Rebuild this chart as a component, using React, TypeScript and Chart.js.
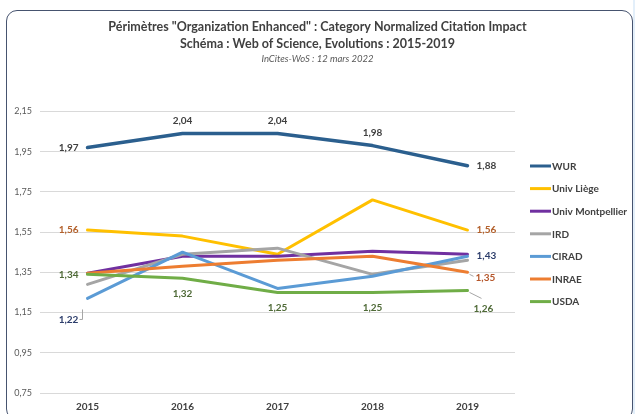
import React, { useEffect, useRef } from "react";
import { Chart, registerables } from "chart.js";

Chart.register(...registerables);

const years = ["2015", "2016", "2017", "2018", "2019"];
const seriesNames = ["WUR", "Univ Liège", "Univ Montpellier", "IRD", "CIRAD", "INRAE", "USDA"];
const wur = [1.97, 2.04, 2.04, 1.98, 1.88];
const univLiege = [1.56, 1.53, 1.44, 1.71, 1.56];
const univMontpellier = [1.345, 1.43, 1.43, 1.455, 1.44];
const ird = [1.29, 1.44, 1.47, 1.34, 1.41];
const cirad = [1.22, 1.45, 1.27, 1.33, 1.43];
const inrae = [1.345, 1.38, 1.41, 1.43, 1.35];
const usda = [1.34, 1.32, 1.25, 1.25, 1.26];
const yTicks = [0.75, 0.95, 1.15, 1.35, 1.55, 1.75, 1.95, 2.15];

const titleLines = [
  'Périmètres "Organization Enhanced" : Category Normalized Citation Impact',
  "Schéma : Web of Science, Evolutions : 2015-2019",
];
const subtitleText = "InCites-WoS : 12 mars 2022";

const seriesValues = [wur, univLiege, univMontpellier, ird, cirad, inrae, usda];
const seriesColors = ["#2b5f8e", "#ffc000", "#7030a0", "#a5a5a5", "#5b9bd5", "#ed7d31", "#70ad47"];
const seriesWidths = [3.5, 3, 3, 3, 3, 3, 3];

// which points carry a value label, and where
const labelSpecs: Record<number, { color: string; items: Record<number, string> }> = {
  0: { color: "#404040", items: { 0: "left", 1: "above", 2: "above", 3: "above", 4: "right" } },
  1: { color: "#b3602b", items: { 0: "left", 4: "right" } },
  4: { color: "#2c3d6b", items: { 0: "belowLeft", 4: "right" } },
  5: { color: "#b5562a", items: { 4: "rightLow" } },
  6: { color: "#4f6a37", items: { 0: "left", 1: "below", 2: "below", 3: "below", 4: "belowRight" } },
};

const FONT = "Lato, 'Open Sans', sans-serif";
const fmt = (v: number) => v.toFixed(2).replace(".", ",");

const valueLabels = {
  id: "valueLabels",
  afterDatasetsDraw(chart: any) {
    const ctx = chart.ctx;
    ctx.save();
    ctx.font = `bold 10px ${FONT}`;
    ctx.textBaseline = "middle";
    Object.keys(labelSpecs).forEach((k) => {
      const di = Number(k);
      const spec = labelSpecs[di];
      const meta = chart.getDatasetMeta(di);
      const data = chart.data.datasets[di].data as number[];
      Object.keys(spec.items).forEach((ik) => {
        const i = Number(ik);
        const el = meta.data[i];
        if (!el) return;
        const px = el.x;
        const py = el.y;
        const txt = fmt(data[i]);
        const pos = spec.items[i];
        ctx.fillStyle = spec.color;
        let x = px;
        let y = py;
        let align: CanvasTextAlign = "center";
        ctx.strokeStyle = "#a6a6a6";
        ctx.lineWidth = 1;
        if (pos === "left") {
          x = px - 9;
          align = "right";
        } else if (pos === "right") {
          x = px + 9;
          align = "left";
        } else if (pos === "above") {
          y = py - 13;
        } else if (pos === "below") {
          y = py + 15;
        } else if (pos === "belowLeft") {
          x = px - 19;
          y = py + 21;
          ctx.beginPath();
          ctx.moveTo(px - 8, py + 21);
          ctx.lineTo(px - 5, py + 21);
          ctx.lineTo(px - 5, py + 11);
          ctx.stroke();
        } else if (pos === "rightLow") {
          x = px + 8;
          y = py + 5;
          align = "left";
          ctx.beginPath();
          ctx.moveTo(px + 2, py + 2);
          ctx.lineTo(px + 6, py + 4);
          ctx.stroke();
        } else if (pos === "belowRight") {
          x = px + 6;
          y = py + 18;
          align = "left";
          ctx.beginPath();
          ctx.moveTo(px + 2, py + 2);
          ctx.lineTo(px + 14, py + 8);
          ctx.stroke();
        }
        ctx.textAlign = align;
        ctx.fillText(txt, x, y);
      });
    });
    ctx.restore();
  },
};

const sideLegend = {
  id: "sideLegend",
  afterDraw(chart: any) {
    const ctx = chart.ctx;
    const area = chart.chartArea;
    ctx.save();
    ctx.font = `bold 10px ${FONT}`;
    ctx.textBaseline = "middle";
    ctx.textAlign = "left";
    const x0 = area.right + 15;
    const y0 = 166;
    chart.data.datasets.forEach((ds: any, i: number) => {
      const y = y0 + i * 22.6;
      ctx.strokeStyle = ds.borderColor;
      ctx.lineWidth = 3;
      ctx.beginPath();
      ctx.moveTo(x0, y);
      ctx.lineTo(x0 + 21, y);
      ctx.stroke();
      ctx.fillStyle = "#404040";
      ctx.fillText(ds.label, x0 + 22, y + 0.5);
    });
    ctx.restore();
  },
};

export default function App() {
  const ref = useRef<HTMLCanvasElement | null>(null);

  useEffect(() => {
    if (!ref.current) return;
    const n = seriesNames.length;
    const chart = new Chart(ref.current, {
      type: "line",
      data: {
        labels: years,
        datasets: seriesNames.map((name, i) => ({
          label: name,
          data: seriesValues[i],
          borderColor: seriesColors[i],
          backgroundColor: seriesColors[i],
          borderWidth: seriesWidths[i],
          pointRadius: 0,
          tension: 0,
          borderJoinStyle: "round" as const,
          borderCapStyle: "round" as const,
          fill: false,
          order: n - i,
        })),
      },
      options: {
        animation: false,
        responsive: true,
        maintainAspectRatio: false,
        layout: { padding: { left: 0, right: 0, top: 0, bottom: 0 } },
        plugins: {
          legend: { display: false },
          tooltip: { enabled: false },
          title: {
            display: true,
            text: titleLines,
            color: "#404040",
            font: { family: FONT, size: 12.5, weight: "bold", lineHeight: 1.32 },
            padding: { top: 19, bottom: 0 },
          },
          subtitle: {
            display: true,
            text: subtitleText,
            color: "#595959",
            font: { family: FONT, size: 9.5, style: "italic", lineHeight: 1.2 },
            padding: { top: 1, bottom: 47 },
          },
        },
        scales: {
          x: {
            offset: true,
            grid: { display: false },
            border: { display: false },
            ticks: {
              color: "#404040",
              font: { family: FONT, size: 10, weight: "bold" },
              padding: 0,
              maxRotation: 0,
            },
            afterFit: (scale: any) => {
              scale.height = 21;
            },
          },
          y: {
            min: 0.75,
            max: 2.15,
            grid: { color: "#d9d9d9", lineWidth: 1, drawTicks: false },
            border: { display: false },
            afterBuildTicks: (scale: any) => {
              scale.ticks = yTicks.map((v) => ({ value: v }));
            },
            afterFit: (scale: any) => {
              scale.width = 40;
            },
            ticks: {
              color: "#595959",
              font: { family: FONT, size: 9 },
              padding: 8,
              callback: (v: any) => fmt(Number(v)),
            },
          },
          legendSpace: {
            type: "linear",
            position: "right",
            display: true,
            grid: { display: false },
            border: { display: false },
            ticks: { display: false },
            afterFit: (scale: any) => {
              scale.width = 120;
            },
          },
        },
      },
      plugins: [valueLabels, sideLegend],
    });
    return () => chart.destroy();
  }, []);

  return (
    <div style={{ position: "fixed", left: 0, top: 0, width: 635, height: 414, background: "#ffffff", overflow: "hidden" }}>
      <div
        style={{
          position: "absolute",
          left: 6,
          top: 10,
          width: 627,
          height: 410,
          border: "1.5px solid #46536f",
          borderRadius: 11,
          boxSizing: "border-box",
        }}
      />
      <div style={{ position: "absolute", left: 633, top: 0, width: 2, height: 414, background: "#e3effa" }} />
      <div style={{ position: "absolute", left: 0, top: 0, width: 635, height: 414 }}>
        <canvas ref={ref} />
      </div>
    </div>
  );
}
